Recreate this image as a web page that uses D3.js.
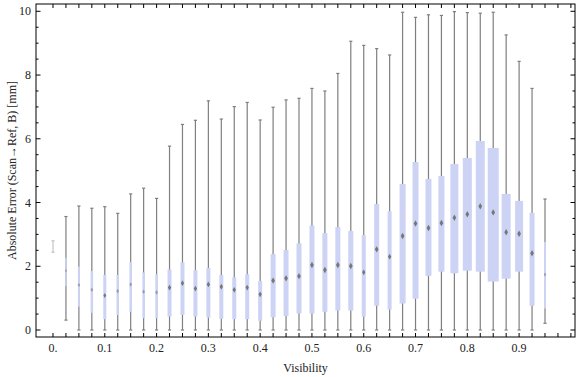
<!DOCTYPE html>
<html>
<head>
<title>Absolute Error vs Visibility</title>
<style>
  body { margin: 0; background: #fff; }
  text { font-family: "Liberation Serif", "DejaVu Serif", serif; fill: #222; }
</style>
<script type="text/javascript" src="https://d3js.org/d3.v7.min.js"></script>
</head>
<body>
<svg id="chart" width="576" height="377"></svg>
<script type="text/javascript">
// one box per visibility bin (bin centre)
const visibility = [0, 0.025, 0.05, 0.075, 0.1, 0.125, 0.15, 0.175, 0.2, 0.225,
                    0.25, 0.275, 0.3, 0.325, 0.35, 0.375, 0.4, 0.425, 0.45, 0.475,
                    0.5, 0.525, 0.55, 0.575, 0.6, 0.625, 0.65, 0.675, 0.7, 0.725,
                    0.75, 0.775, 0.8, 0.825, 0.85, 0.875, 0.9, 0.925, 0.95];
const whiskerLow = [2.44, 0.31, 0, 0, 0, 0, 0, 0, 0, 0,
                    0, 0, 0, 0, 0, 0, 0, 0, 0, 0,
                    0, 0, 0, 0, 0, 0, 0, 0, 0, 0,
                    0, 0, 0, 0, 0, 0, 0, 0, 0.21];
const quart1 = [2.6, 1.38, 0.73, 0.54, 0.34, 0.47, 0.57, 0.37, 0.37, 0.42,
                0.47, 0.42, 0.39, 0.35, 0.34, 0.34, 0.29, 0.40, 0.44, 0.52,
                0.52, 0.57, 0.61, 0.61, 0.42, 0.76, 0.64, 0.83, 0.98, 1.70,
                1.83, 1.78, 1.86, 1.83, 1.52, 1.61, 1.83, 0.76, 0.67];
const median = [2.6, 1.86, 1.41, 1.26, 1.08, 1.22, 1.43, 1.20, 1.18, 1.33,
                1.47, 1.30, 1.43, 1.36, 1.26, 1.33, 1.12, 1.55, 1.62, 1.69,
                2.04, 1.88, 2.04, 2.01, 1.81, 2.53, 2.30, 2.95, 3.34, 3.20,
                3.36, 3.52, 3.63, 3.88, 3.69, 3.07, 3.02, 2.41, 1.74];
const quart3 = [2.6, 2.27, 1.99, 1.85, 1.73, 1.73, 2.13, 1.81, 1.75, 1.90,
                2.12, 1.88, 1.95, 1.73, 1.65, 1.75, 1.54, 2.38, 2.51, 2.72,
                3.28, 3.04, 3.23, 3.11, 2.98, 3.95, 3.73, 4.58, 5.27, 4.74,
                4.83, 5.21, 5.40, 5.93, 5.71, 4.27, 4.05, 3.68, 2.76];
const whiskerHigh = [2.80, 3.56, 3.89, 3.82, 3.87, 3.66, 4.27, 4.45, 4.13, 5.77,
                     6.45, 6.58, 7.19, 6.62, 7.01, 7.14, 6.59, 6.99, 7.22, 7.27,
                     7.58, 7.50, 8.05, 9.06, 8.93, 8.83, 8.63, 9.97, 9.81, 9.89,
                     9.87, 9.99, 9.96, 9.94, 9.97, 9.26, 8.43, 7.58, 4.11];
// relative number of samples per bin (box width)
const samples = [0, 15, 20, 25, 30, 25, 25, 25, 25, 40,
                 40, 40, 40, 40, 40, 40, 40, 50, 50, 50,
                 50, 50, 50, 50, 40, 50, 40, 60, 60, 60,
                 60, 80, 90, 90, 110, 90, 80, 50, 20];
const xTickLabels = ["0.", "0.1", "0.2", "0.3", "0.4", "0.5", "0.6", "0.7", "0.8", "0.9"];
const yTickLabels = ["0", "2", "4", "6", "8", "10"];

const svg = d3.select("#chart");
const LEFT = 36, RIGHT = 575, TOP = 4, BOTTOM = 337;

const xScale = d3.scaleLinear().domain([0, 0.95]).range([53, 545]);
const yScale = d3.scaleLinear().domain([0, 10]).range([330, 11.3]);
const wScale = d3.scaleLinear().domain([0, 110]).range([0, 11]);

const data = visibility.map((v, i) => ({
  v: v, lo: whiskerLow[i], q1: quart1[i], med: median[i],
  q3: quart3[i], hi: whiskerHigh[i], n: samples[i]
}));

// frame ticks
const xTicks = d3.range(0, 41).map(i => i * 0.025);
const yTicks = d3.range(0, 21).map(i => i * 0.5);
const tickG = svg.append("g").attr("stroke", "#000").attr("stroke-width", 1);
xTicks.forEach(t => {
  const x = xScale(t);
  tickG.append("line").attr("x1", x).attr("x2", x).attr("y1", BOTTOM).attr("y2", BOTTOM - 4);
  tickG.append("line").attr("x1", x).attr("x2", x).attr("y1", TOP).attr("y2", TOP + 4);
});
yTicks.forEach(t => {
  const y = yScale(t);
  const len = (t % 2 === 0) ? 4.5 : 2.5;
  tickG.append("line").attr("x1", LEFT).attr("x2", LEFT + len).attr("y1", y).attr("y2", y);
  tickG.append("line").attr("x1", RIGHT).attr("x2", RIGHT - len).attr("y1", y).attr("y2", y);
});

// whiskers
const boxes = svg.append("g");
data.forEach(d => {
  const x = xScale(d.v);
  const col = d.n === 0 ? "#c4c4c4" : "#7f7f7f";
  boxes.append("line").attr("x1", x).attr("x2", x)
       .attr("y1", yScale(d.lo)).attr("y2", yScale(d.hi))
       .attr("stroke", col).attr("stroke-width", 1.2);
  [d.lo, d.hi].forEach(val => {
    boxes.append("line").attr("x1", x - 1.6).attr("x2", x + 1.6)
         .attr("y1", yScale(val)).attr("y2", yScale(val))
         .attr("stroke", col).attr("stroke-width", 1.2);
  });
});

// boxes
boxes.selectAll("rect.box")
  .data(data.filter(d => d.n > 0))
  .join("rect")
  .attr("class", "box")
  .attr("x", d => xScale(d.v) - wScale(d.n) / 2)
  .attr("width", d => wScale(d.n))
  .attr("y", d => yScale(d.q3))
  .attr("height", d => yScale(d.q1) - yScale(d.q3))
  .attr("fill", "#ccd3f4");

// median markers
boxes.selectAll("path.med")
  .data(data.filter(d => d.n > 0))
  .join("path")
  .attr("class", "med")
  .attr("transform", d => `translate(${xScale(d.v)},${yScale(d.med)})`)
  .attr("d", d => d3.symbol().type(d3.symbolDiamond).size(Math.min(wScale(d.n), 5) * 2.4)())
  .attr("fill", d => wScale(d.n) < 3 ? "#9a9aa8" : "#777");

// frame
svg.append("rect")
   .attr("x", LEFT).attr("y", TOP)
   .attr("width", RIGHT - LEFT).attr("height", BOTTOM - TOP)
   .attr("fill", "none").attr("stroke", "#000").attr("stroke-width", 1);

// tick labels
svg.append("g").selectAll("text")
   .data(xTickLabels)
   .join("text")
   .attr("x", (d, i) => xScale(i * 0.1))
   .attr("y", 352)
   .attr("text-anchor", "middle")
   .attr("font-size", 12)
   .text(d => d);

svg.append("g").selectAll("text")
   .data(yTickLabels)
   .join("text")
   .attr("x", 31)
   .attr("y", (d, i) => yScale(i * 2) + 4)
   .attr("text-anchor", "end")
   .attr("font-size", 12)
   .text(d => d);

// axis titles
svg.append("text")
   .attr("x", (LEFT + RIGHT) / 2).attr("y", 372)
   .attr("text-anchor", "middle").attr("font-size", 12)
   .text("Visibility");

svg.append("text")
   .attr("transform", `translate(16, ${(TOP + BOTTOM) / 2}) rotate(-90)`)
   .attr("text-anchor", "middle").attr("font-size", 12)
   .text("Absolute Error (Scan\u2192Ref, B) [mm]");
</script>
</body>
</html>
